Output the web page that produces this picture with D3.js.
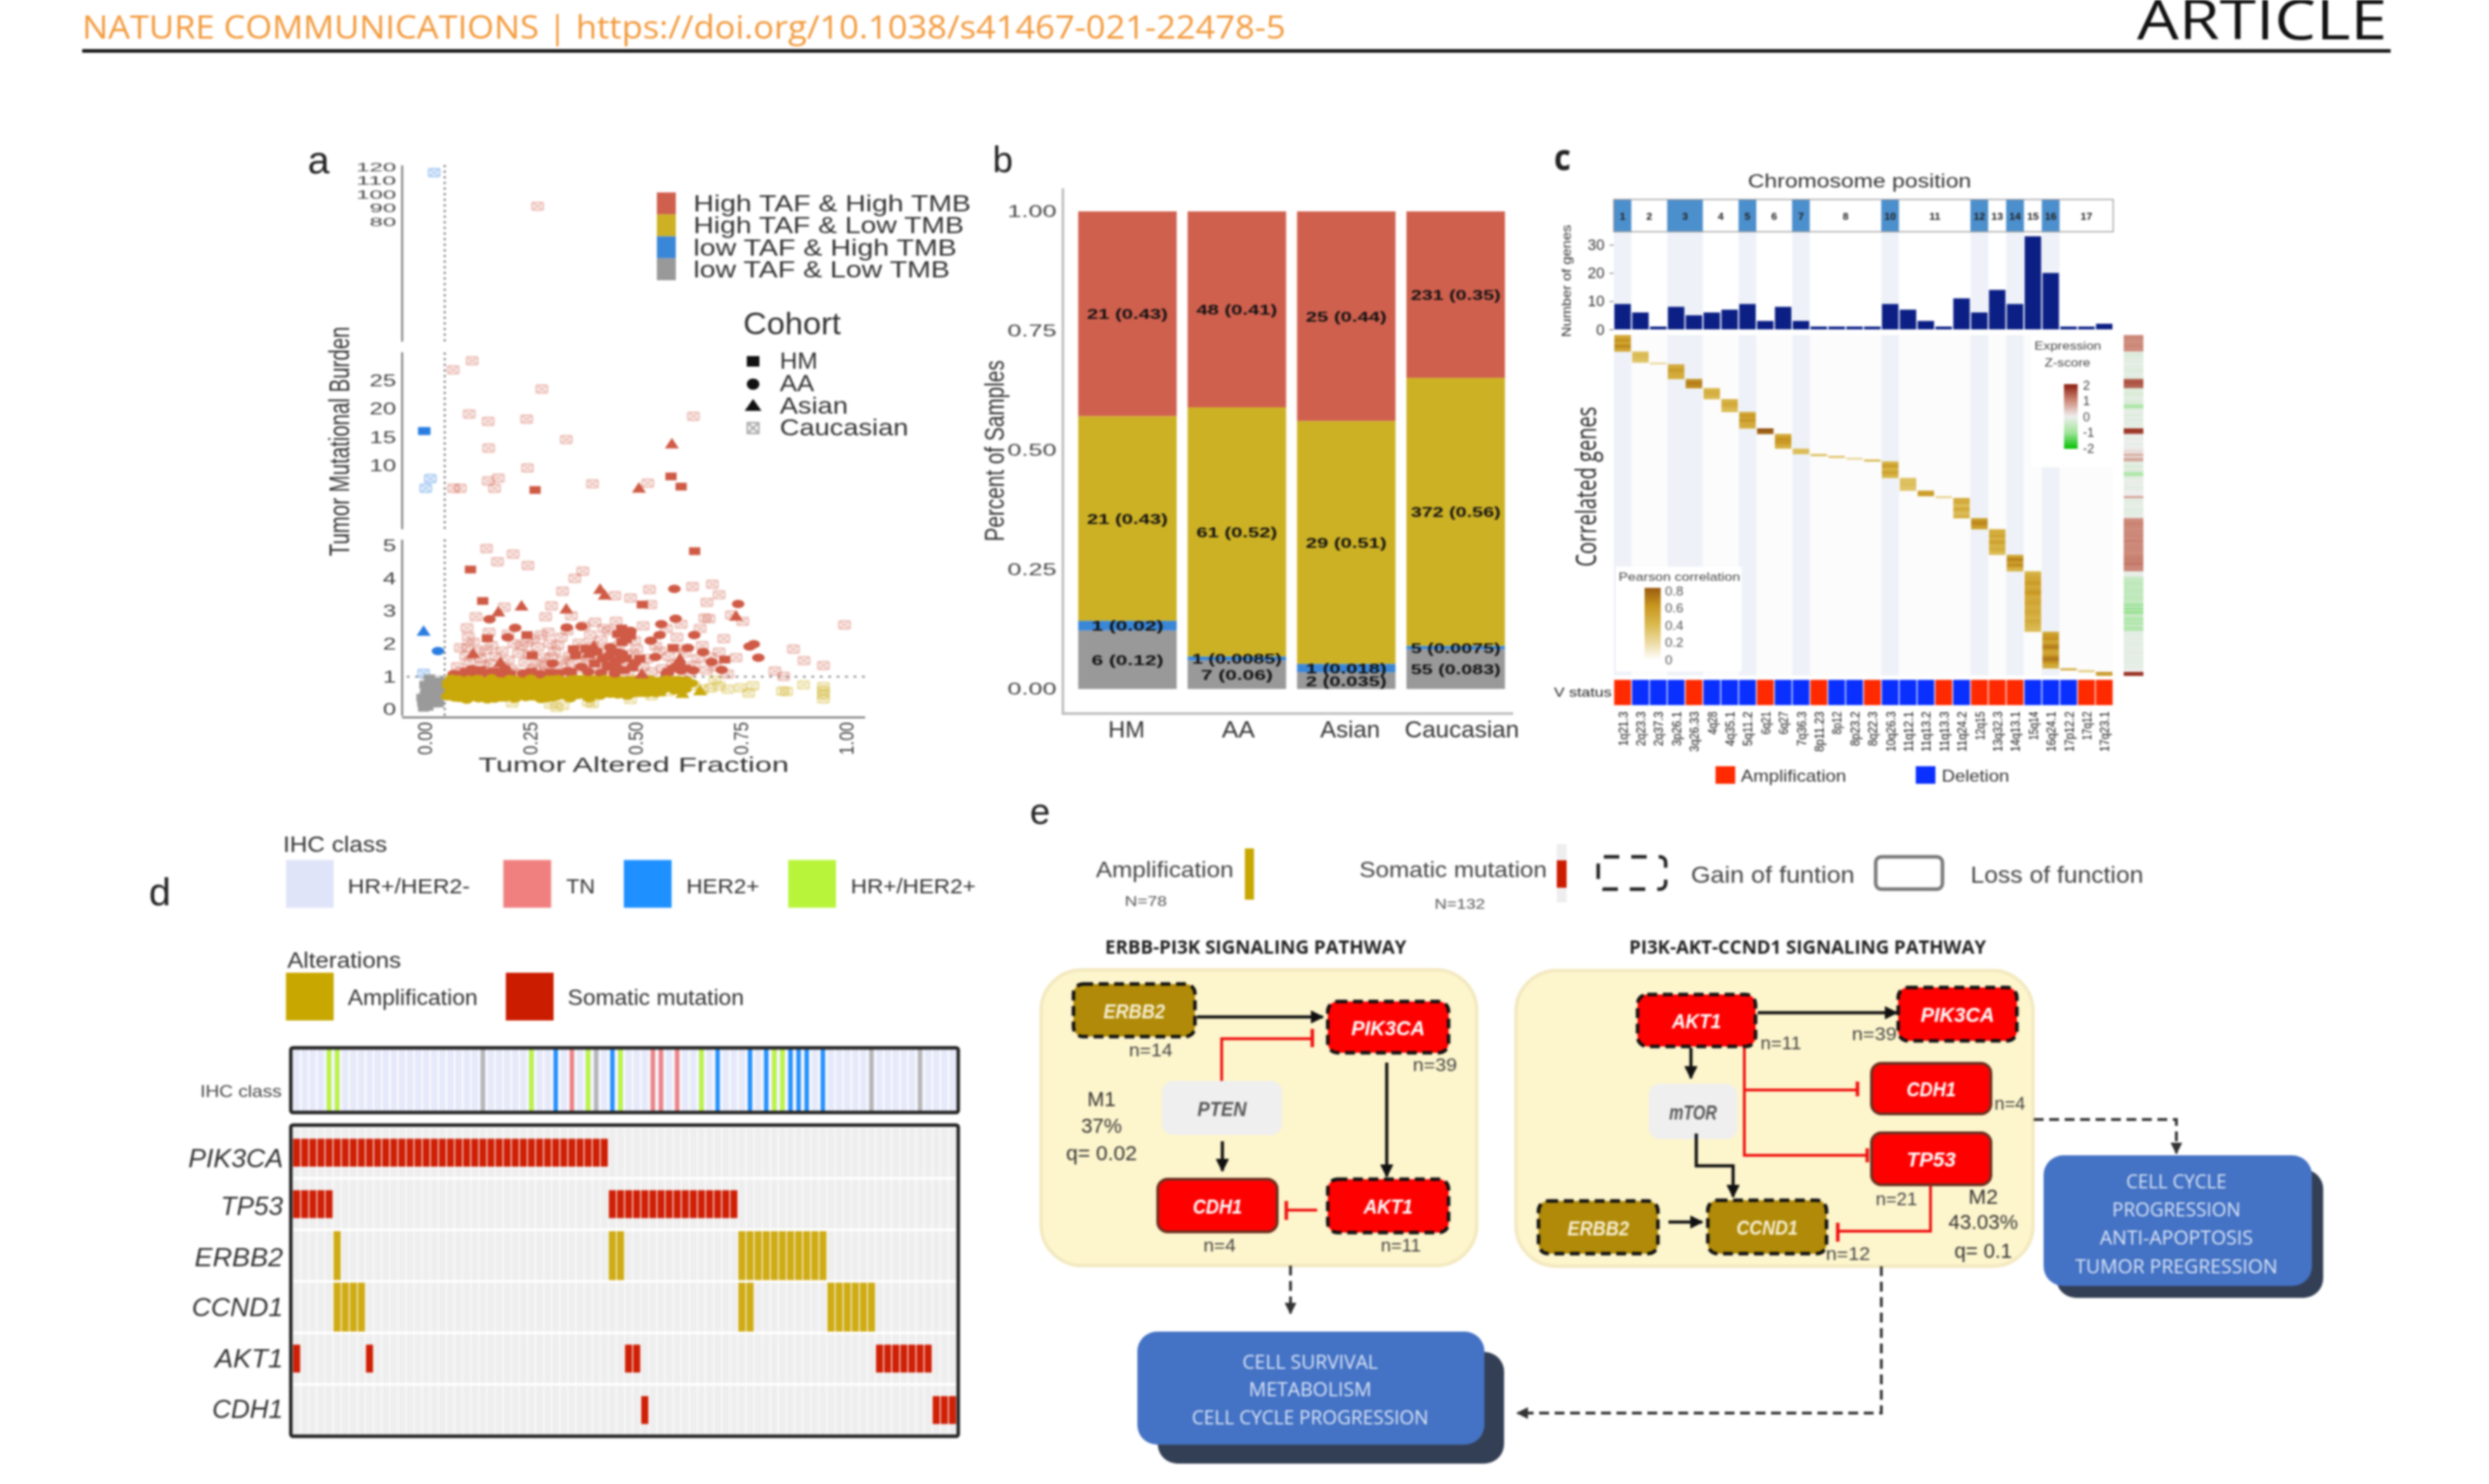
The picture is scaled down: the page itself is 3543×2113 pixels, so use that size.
<!DOCTYPE html>
<html><head><meta charset="utf-8">
<script src="https://cdn.jsdelivr.net/npm/d3@7"></script>
<style>html,body{margin:0;background:#fff}svg{display:block;filter:blur(1.5px)}</style>
</head><body><svg id="c" width="3543" height="2113" viewBox="0 0 3543 2113"></svg>
<script>
// ---------- PANEL A DATA: [tumor altered fraction, tumor mutational burden] ----------
const pointsCaucasian = [
[.025,116],[.27,91.5],
[.07,26.9],[.115,28.5],[.28,23.5],[.108,19.1],[.153,17.8],[.244,18.2],[.639,18.7],[.338,14.6],[.154,13.1],[.246,9.6],[.153,7.3],[.177,7.8],[.168,6],[.071,6],[.087,6],[.40,6.8],[.531,6.9],[.016,7.7],[.005,6],
[.149,4.91],[.175,4.51],[.212,4.74],[.247,4.39],[.377,4.22],[.358,4.0],[.329,3.61],[.535,3.66],[.453,3.47],[.49,3.4],[.637,3.75],[.684,3.82],[.70,3.5],[.671,3.27],[.303,3.16],[.191,3.12],[.124,2.83],[.289,2.83],[.35,2.86],[.406,2.66],[.456,2.69],[.538,3.2],[.666,2.79],[.676,2.77],[.756,2.69],[.729,2.88],[.997,2.58],[.711,2.16],[.103,2.49],[.106,2.21],[.655,2.47],[.575,2.47],[.876,1.84],[.901,1.49],[.947,1.34],[.74,1.58],[.832,1.17],[.853,1.01],[0,1.1],
[.087,1.88],[.13,1.75],[.161,1.95],[.214,2.01],[.278,2.27],[.299,2.01],[.326,2.2],[.395,2.27],[.427,2.47],[.352,1.43],[.105,1.9],[.11,1.45],[.142,1.35],[.17,1.62],[.19,1.3],[.225,1.72],[.24,1.44],[.262,1.26],[.283,1.58],[.31,1.76],[.325,1.33],[.345,1.62],[.368,2.02],[.385,1.41],[.41,1.68],[.42,2.12],[.44,1.22],[.462,1.95],[.475,1.38],[.505,1.84],[.52,1.3],[.55,1.93],[.565,1.24],[.58,1.62],[.62,1.72],[.64,1.35],[.67,1.2],[.69,1.3],[.72,1.08],[.295,1.15],[.215,1.12],[.125,1.12],[.08,1.3],[.245,2.05],[.378,1.86],[.34,2.4],[.438,2.4],[.5,2.1],[.6,2.2],
[.09,1.15],[.1,1.62],[.118,2.05],[.135,1.55],[.148,1.82],[.158,1.4],[.176,1.18],[.186,1.78],[.2,1.5],[.208,1.22],[.232,1.95],[.25,1.68],[.27,1.9],[.272,1.4],[.29,1.32],[.302,1.6],[.318,1.95],[.33,1.5],[.336,1.14],[.36,1.78],[.37,1.25],[.39,1.6],[.4,1.95],[.405,1.2],[.415,1.45],[.43,1.82],[.45,1.55],[.47,2.2],[.485,1.15],[.495,1.7],[.53,1.55],[.54,1.15],[.56,1.78],[.59,1.38],[.605,1.85],[.63,1.12],[.65,1.55],[.66,1.95],[.68,1.6],[.7,1.75],[.295,2.35],[.26,2.15],[.2,2.3],[.155,2.35],[.38,2.55],[.52,2.55],[.61,2.6],
[.315,.06],[.33,.12],[.30,.16],[.21,.2],[.40,.18],[.39,.22],[.49,.3],[.68,.65],[.70,.72],[.72,.62],[.75,.66],[.77,.5],[.78,.72],[.86,.55],[.85,.56],[.90,.75],[.947,.7],[.947,.58],[.947,.45],[.947,.32],[.62,.85],[.66,.62],[.64,.72],[.69,.9],[.58,.55],[.54,.42],
[.012,.25],[.022,.4],[.035,.55],[.045,.7],[.03,.9],[.04,.85],[.015,.72],[.048,.45],[.025,.62],[.008,.85]
];
const pointsHM = [
[0,16.1],[.003,16.1],[.264,5.7],[.586,8.1],[.61,6.3],
[.111,4.27],[.642,4.83],[.14,3.31],[.518,3.2],[.151,2.17],[.245,2.27],[.257,1.65],[.355,1.84],[.394,1.79],[.48,2.34],[.48,2.14],[.469,2.47],[.713,1.52],[.591,1.88],[.512,1.55],[.48,1.56],[.36,1.65],[.44,1.6],[.455,1.42],[.495,1.28],[.135,1.2],
[.46,2.3],[.49,2.25],[.47,2.05],[.455,1.75],[.435,1.35],[.405,1.4],[.385,1.85],[.41,1.75],[.35,1.15],[.3,1.12],[.255,1.15],[.205,1.08],[.165,1.15],[.1,1.15],[.58,1.15],[.6,1.3],[.62,1.25],[.475,1.2],
[.065,.84],[.09,.62],[.118,.9],[.14,.45],[.165,.74],[.188,.36],[.21,.88],[.235,.55],[.26,.92],[.285,.42],[.31,.72],[.335,.5],[.36,.93],[.385,.6],[.41,.86],[.435,.56],[.46,.9],[.49,.72],[.52,.85],[.55,.62],[.58,.82],[.615,.75],
[.07,.9],[.092,.88],[.108,.92],[.135,.89],[.17,.92],[.186,.88],[.222,.91],[.243,.88],[.268,.9],[.3,.92],[.33,.88],[.352,.9],[.388,.92],[.415,.89],[.44,.91],[.47,.88],[.495,.9],[.53,.92],[.56,.87],[.59,.9],[.62,.88],
[.06,.6],[.082,.72],[.1,.68],[.125,.76],[.15,.66],[.175,.78],[.2,.6],[.225,.74],[.25,.62],[.275,.78],[.3,.64],[.325,.77],[.35,.7],[.375,.66],[.4,.74],[.425,.64],[.45,.72],[.48,.6],[.505,.68],[.535,.7],[.565,.74],[.6,.7],[.51,.5],[.56,.52],
[.001,.12],[.008,.3],[.004,.46],[-.002,.2],[.012,.6],[.003,.75],[.01,.08],[.02,.18],[.018,.5],[.028,.3],[.03,.7],[.006,.62],[.022,.85],[.036,.42],[.04,.62],[.014,.95],[-.004,.36],[.0,.05],[.035,.18],[.044,.85]
];
const pointsAA = [
[.034,1.78],[.156,2.75],[.217,2.49],[.199,2.2],[.339,2.5],[.374,2.53],[.594,3.68],[.597,2.77],[.563,2.6],[.559,2.27],[.538,2.1],[.641,2.27],[.626,1.88],[.662,1.75],[.682,1.45],[.745,3.22],[.782,1.99],[.772,1.92],[.793,1.58],[.706,1.21],[.549,1.6],[.071,1.08],[.114,1.23],[.124,1.1],[.151,1.1],[.193,1.23],[.236,1.1],[.305,1.4],[.342,1.17],[.374,1.3],[.437,1.3],[.453,1.1],[.575,1.1],[.639,1.19],[.47,1.7],[.425,1.55],[.46,1.25],[.59,1.25],[.61,1.18],[.275,1.08],[.42,1.12],
[.442,1.9],[.49,2.4],[.5,1.42],[.39,1.15],[.32,1.1],[.185,1.06],[.085,1.06],
[.058,.72],[.062,.5],[.066,.94],[.074,.36],[.078,.76],[.083,.92],[.088,.46],[.096,.83],[.102,.3],[.106,.58],[.112,.72],[.122,.4],[.127,.93],[.131,.62],[.146,.86],[.151,.31],[.156,.56],[.161,.95],[.172,.42],[.177,.63],[.182,.86],[.195,.5],[.2,.7],[.204,.93],[.216,.33],[.222,.6],[.228,.78],[.242,.38],[.248,.72],[.254,.94],[.268,.5],[.272,.68],[.278,.32],[.292,.87],[.298,.58],[.304,.36],[.318,.93],[.322,.48],[.328,.67],[.342,.84],[.347,.34],[.353,.62],[.366,.44],[.372,.78],[.378,.93],[.392,.34],[.397,.7],[.403,.52],[.418,.42],[.423,.7],[.428,.93],[.442,.48],[.447,.78],[.468,.55],[.474,.72],[.482,.42],[.5,.55],[.51,.92],[.53,.5],[.54,.72],[.565,.6],[.575,.92],[.595,.58],[.605,.9],[.635,.8],
[.056,.4],[.07,.46],[.084,.35],[.094,.52],[.11,.38],[.118,.5],[.13,.34],[.143,.56],[.16,.42],[.168,.33],[.183,.5],[.19,.6],[.208,.42],[.214,.55],[.235,.42],[.24,.62],[.258,.4],[.262,.6],[.286,.52],[.29,.34],[.312,.56],[.315,.4],[.336,.42],[.34,.6],[.36,.54],[.382,.45],[.39,.55],[.41,.6],[.43,.5],[.455,.58],[.46,.46],[.49,.48],[.52,.6],[.55,.5],[.058,.82],[.072,.62],[.096,.6],[.138,.66],[.165,.55],[.21,.66],[.258,.76],[.31,.84],[.365,.82],[.405,.92],[.455,.82],[.5,.8],[.54,.88],[.58,.68],[.62,.62]
];
const pointsAsian = [
[.588,13.9],[.51,6.1],
[0,2.4],[.177,2.99],[.232,3.17],[.338,3.08],[.418,3.68],[.429,3.5],[.74,2.86],[.117,1.71],[.182,1.45],[.403,1.95],[.443,1.82],[.607,1.56],[.613,1.36],[.517,1.1],[.39,1.72],[.46,1.55],
[.613,.5],[.655,.58],[.52,.6],[.19,.7],[.33,.8]
];

// ---------- PANEL B DATA ----------
const cohorts = ["HM","AA","Asian","Caucasian"];
const classes = ["low TAF & Low TMB","low TAF & High TMB","High TAF & Low TMB","High TAF & High TMB"];
const countLowLow = [6,7,2,55];
const countLowHigh = [1,1,1,5];
const countHighLow = [21,61,29,372];
const countHighHigh = [21,48,25,231];
const labelLowLow = ["6 (0.12)","7 (0.06)","2 (0.035)","55 (0.083)"];
const labelLowHigh = ["1 (0.02)","1 (0.0085)","1 (0.018)","5 (0.0075)"];
const labelHighLow = ["21 (0.43)","61 (0.52)","29 (0.51)","372 (0.56)"];
const labelHighHigh = ["21 (0.43)","48 (0.41)","25 (0.44)","231 (0.35)"];
const percentTicks = [0,.25,.5,.75,1];

// ---------- PANEL C DATA ----------
const cytobands = ["1q21.3","2q23.3","2q37.3","3p26.1","3q26.33","4q28","4q35.1","5q11.2","6q21","6q27","7q36.3","8p11.23","8p12","8p23.2","8q22.3","10q26.3","11q12.1","11q13.2","11q13.3","11q24.2","12q15","13q32.3","14q13.1","15q14","16q24.1","17p12.2","17q12","17q23.1"];
const bandChromosome = [1,2,2,3,3,4,4,5,6,6,7,8,8,8,8,10,11,11,11,11,12,13,14,15,16,17,17,17];
const geneCounts = [9,6,1,8,5,6,7,9,3,8,3,1,1,1,1,9,7,3,1,11,6,14,9,33,20,1,1,2];
const vStatus = ["A","D","D","D","A","D","D","D","A","D","D","A","D","D","A","D","D","D","A","D","A","A","A","D","D","D","A","A"];
const shadedChromosomes = [1,3,5,7,10,12,14,16];
const correlations = [
[.5,.52,.62,.6,.52,.62,.66,.55,.5],[.36,.38,.4,.38,.36,.34],[.2],[.5,.48,.55,.6,.5,.48,.5,.45],[.62,.66,.7,.66,.62],[.42,.45,.48,.46,.42,.38],[.44,.46,.5,.48,.44,.4,.38],[.5,.55,.6,.52,.62,.55,.48,.5,.46],[.85,.8,.78],[.5,.55,.6,.62,.6,.55,.5,.42],[.35,.4,.36],[.4],[.35],[.22],[.42],[.42,.5,.58,.5,.42,.52,.55,.45,.4],[.34,.36,.36,.38,.36,.34,.32],[.55,.6,.5],[.25],[.5,.46,.52,.4,.38,.48,.5,.42,.36,.44,.46],[.55,.62,.66,.64,.58,.52],[.42,.5,.46,.55,.48,.44,.52,.56,.46,.42,.5,.46,.4,.38],[.5,.6,.68,.62,.55,.65,.58,.45,.42],
[.42,.44,.5,.52,.5,.56,.58,.54,.5,.52,.56,.6,.58,.5,.48,.52,.5,.54,.5,.46,.48,.5,.52,.48,.46,.44,.48,.5,.46,.44,.42,.4,.38],
[.5,.55,.6,.62,.6,.52,.55,.66,.7,.62,.55,.5,.56,.64,.7,.72,.62,.56,.5,.46],[.5],[.3],[.62,.55]];
const expressionZ = [
[1,1.05,1,.95,1,1,1.05,.95,1],[-.1,-.3,-.15,-.25,-.1,-.2],[-.05],[-.15,-.2,-.1,-.3,-.15,-.1,-.2,-.15],[1.45,1.5,1.5,1.4,1.35],[-.3,-.15,-.25,-.3,-.2,-.1],[-.2,-.25,-.3,-.85,-.9,-.2,-.1],[-.1,-.2,-.15,-.1,-.2,-.1,-.15,-.1,-.15],[1.75,1.8,1.7],[-.1,-.05,-.1,-.05,0,-.1,-.05,0],[.1,.2,.15],[.8],[.1],[.75],[.7],[-.2,-.1,-.3,-.2,-.15,-.3,-.9,-.85,-.2],[-.1,-.05,-.1,-.05,-.1,-.15,-.1],[0,-.05,0],[.9],[-.1,-.2,-.1,-.15,-.05,-.1,-.2,-.1,-.15,-.1,-.05],[1,1,1.05,1.1,1,1],[1,1,1,1.05,1,1,1.1,1,1,1,1.05,1,1,1],[1.05,1.1,1.1,1.05,1.2,1.1,1.05,1,1.05],
[-.1,-.05,-.1,-.5,-.55,-.6,-.6,-.65,-.55,-.6,-.65,-.6,-.55,-.6,-.65,-.6,-.55,-.6,-1.1,-.5,-1.15,-.6,-1.2,-.55,-.5,-.7,-.9,-.5,-1,-.45,-.7,-.9,-.5],
[-.1,-.15,-.1,-.15,-.1,-.1,-.15,-.1,-.15,-.1,-.1,-.15,-.1,-.1,-.15,-.1,-.15,-.1,-.1,-.15],[0],[0],[1.85,1.9]];

// ---------- PANEL D DATA ----------
const genes = ["PIK3CA","TP53","ERBB2","CCND1","AKT1","CDH1"];
const geneType = {PIK3CA:"mut",TP53:"mut",ERBB2:"amp",CCND1:"amp",AKT1:"mut",CDH1:"mut"};
const sampleCount = 82;
const pik3caSamples = d3.range(0,39);
const tp53Samples = [0,1,2,3,4,39,40,41,42,43,44,45,46,47,48,49,50,51,52,53,54];
const erbb2Samples = [5,39,40,55,56,57,58,59,60,61,62,63,64,65];
const ccnd1Samples = [5,6,7,8,55,56,66,67,68,69,70,71];
const akt1Samples = [0,9,41,42,72,73,74,75,76,77,78];
const cdh1Samples = [43,79,80,81];
const ihcLime = [4,5,29,36,40,50,59,60];
const ihcGrey = [23,37,71,77];
const ihcBlue = [32,39,52,56,58,61,62,63,65];
const ihcPink = [34,44,45,47];

// ---------- COLOURS / HELPERS ----------
const RED="#d0604e", YEL="#cdb124", BLU="#3a87d8", GRY="#999999";
const svg=d3.select("#c");
const SANS="'Liberation Sans',Arial,sans-serif", OPEN="'Open Sans',sans-serif";
function t(str,x,y,o={}){
  const e=svg.append("text").text(str).attr("x",x).attr("y",y)
    .attr("font-family",o.family||SANS).attr("font-size",o.fs||24)
    .attr("fill",o.fill||"#333").attr("text-anchor",o.anchor||"start");
  if(o.weight)e.attr("font-weight",o.weight);
  if(o.italic)e.attr("font-style","italic");
  if(o.w)e.attr("textLength",o.w).attr("lengthAdjust","spacingAndGlyphs");
  if(o.rot)e.attr("transform",`rotate(${o.rot} ${x} ${y})`);
  return e;
}
function styleAxis(g,fs,charW,fill){
  g.selectAll("text").attr("font-family",SANS).attr("font-size",fs).attr("fill",fill||"#444")
   .each(function(){const s=d3.select(this).text();d3.select(this).attr("textLength",s.length*charW).attr("lengthAdjust","spacingAndGlyphs");});
}

// ---------- HEADER ----------
t("NATURE COMMUNICATIONS | https://doi.org/10.1038/s41467-021-22478-5",117,55,{fs:46,family:OPEN,fill:"#f39a3d",w:1713});
t("ARTICLE",3042,56,{fs:78,family:OPEN,fill:"#111",w:356});
svg.append("rect").attr("x",117).attr("y",70).attr("width",3286).attr("height",5).attr("fill","#111");

// ---------- PANEL A ----------
t("a",438,247,{fs:56,fill:"#222"});
const xA=d3.scaleLinear().domain([-.0516,1.045]).range([572,1231]);
const yLow=d3.scaleLinear().domain([-.19,5.19]).range([1019,768]);
const yMid=d3.scaleLinear().domain([-1.15,30.07]).range([753,501]);
const yTop=d3.scaleLinear().domain([-7,121.5]).range([486,235]);
const yAny=v=>v<=5.5?yLow(v):v<=35?yMid(v):yTop(v);
const tickSets=[[yLow,[0,1,2,3,4,5],24],[yMid,[10,15,20,25],24],[yTop,[80,90,100,110,120],16]];
tickSets.forEach(([s,tv,fs])=>{
  const g=svg.append("g").attr("transform","translate(572,0)").call(d3.axisLeft(s).tickValues(tv).tickSize(0).tickPadding(8).tickFormat(d3.format("d")));
  g.select(".domain").attr("stroke","#888").attr("stroke-width",3);
  styleAxis(g,fs,19,"#444");
  svg.append("line").attr("x1",xA(.05)).attr("x2",xA(.05)).attr("y1",s.range()[0]).attr("y2",s.range()[1]).attr("stroke","#666").attr("stroke-width",2.5).attr("stroke-dasharray","3 5");
});
svg.append("line").attr("x1",xA(-.04)).attr("x2",xA(1.045)).attr("y1",yLow(1)).attr("y2",yLow(1)).attr("stroke","#888").attr("stroke-width",2.5).attr("stroke-dasharray","4 8");
const gx=svg.append("g").attr("transform","translate(0,1021)").call(d3.axisBottom(xA).tickValues([0,.25,.5,.75,1]).tickSize(0).tickFormat(d3.format(".2f")));
gx.select(".domain").attr("stroke","#888").attr("stroke-width",3);
gx.selectAll("text").attr("font-family",SANS).attr("font-size",30).attr("fill","#444").attr("text-anchor","end")
  .attr("textLength",47).attr("lengthAdjust","spacingAndGlyphs")
  .attr("transform","rotate(-90)").attr("x",-7).attr("y",0).attr("dy","11");
t("Tumor Altered Fraction",681,1099,{fs:30,w:442,fill:"#333"});
t("Tumor Mutational Burden",497,792,{fs:40,w:327,rot:-90,fill:"#333"});
const cls=d=>d[0]<.05?(d[1]>=1?"#2a7de0":"#9a9a9a"):(d[1]>=1?"#cf5a45":"#c9a80a");
svg.append("g").selectAll("g").data(pointsCaucasian).join("g")
  .attr("transform",d=>`translate(${xA(d[0])},${yAny(d[1])})`).attr("opacity",.36)
  .each(function(d){const g=d3.select(this),c=cls(d);
    g.append("rect").attr("x",-8).attr("y",-5.5).attr("width",16).attr("height",11).attr("rx",2).attr("fill",c).attr("fill-opacity",.25).attr("stroke",c).attr("stroke-width",2.4);
    g.append("path").attr("d","M-8,-5.5L8,5.5M-8,5.5L8,-5.5").attr("stroke",c).attr("stroke-width",2);});
svg.append("g").selectAll("rect").data(pointsHM).join("rect")
  .attr("x",d=>xA(d[0])-8).attr("y",d=>yAny(d[1])-5.5).attr("width",16).attr("height",11).attr("fill",cls);
svg.append("g").selectAll("ellipse").data(pointsAA).join("ellipse")
  .attr("cx",d=>xA(d[0])).attr("cy",d=>yAny(d[1])).attr("rx",9).attr("ry",6).attr("fill",cls);
svg.append("g").selectAll("path").data(pointsAsian).join("path")
  .attr("d",d=>{const x=xA(d[0]),y=yAny(d[1]);return `M${x-10},${y+7}L${x},${y-8}L${x+10},${y+7}Z`;}).attr("fill",cls);
const legA=[["High TAF & High TMB",RED,395],["High TAF & Low TMB",YEL,385],["low TAF & High TMB",BLU,375],["low TAF & Low TMB",GRY,365]];
const legAScale=d3.scaleBand().domain(d3.range(4)).range([274,399]);
legA.forEach((l,i)=>{
  svg.append("rect").attr("x",935).attr("y",legAScale(i)).attr("width",27).attr("height",legAScale.bandwidth()).attr("fill",l[1]);
  t(l[0],987,legAScale(i)+27,{fs:33,w:l[2],fill:"#333"});
});
t("Cohort",1058,476,{fs:44,w:139,fill:"#333"});
const cohortLeg=[["HM",54,525],["AA",49,557],["Asian",97,589],["Caucasian",183,620]];
cohortLeg.forEach(l=>t(l[0],1110,l[2],{fs:33,w:l[1],fill:"#333"}));
svg.append("rect").attr("x",1063).attr("y",507).attr("width",18).attr("height",15).attr("fill","#111");
svg.append("ellipse").attr("cx",1072).attr("cy",547).attr("rx",9).attr("ry",8).attr("fill","#111");
svg.append("path").attr("d","M1060,585L1072,568L1084,585Z").attr("fill","#111");
svg.append("rect").attr("x",1064).attr("y",602).attr("width",16).attr("height",15).attr("fill","none").attr("stroke","#aaa").attr("stroke-width",2.5);
svg.append("path").attr("d","M1064,602L1080,617M1064,617L1080,602").attr("stroke","#aaa").attr("stroke-width",2.5);

// ---------- PANEL B ----------
t("b",1413,245,{fs:52,fill:"#222"});
const xB=d3.scaleBand().domain(cohorts).range([1527,2150]).paddingInner(.1).paddingOuter(.05);
const yB=d3.scaleLinear().domain([0,1]).range([981,301]);
const barRows=cohorts.map((c,i)=>{const tot=countLowLow[i]+countLowHigh[i]+countHighLow[i]+countHighHigh[i];
  return {c,a:countLowLow[i]/tot,b:countLowHigh[i]/tot,d:countHighLow[i]/tot,e:countHighHigh[i]/tot};});
const stackB=d3.stack().keys(["a","b","d","e"])(barRows);
const colB=[GRY,BLU,YEL,RED], labB=[labelLowLow,labelLowHigh,labelHighLow,labelHighHigh];
stackB.forEach((s,k)=>{
  svg.append("g").selectAll("rect").data(s).join("rect").attr("x",d=>xB(d.data.c)).attr("width",xB.bandwidth())
    .attr("y",d=>yB(d[1])).attr("height",d=>yB(d[0])-yB(d[1])).attr("fill",colB[k]);
});
stackB.forEach((s,k)=>{
  s.forEach((d,i)=>{const str=labB[k][i];
    t(str,xB(d.data.c)+xB.bandwidth()/2,yB((d[0]+d[1])/2)+7.5,{fs:21,weight:"bold",fill:"#111",anchor:"middle",w:str.length*12.8});
  });
});
const yAxB=svg.append("g").attr("transform","translate(1513,0)").call(d3.axisLeft(yB).tickValues(percentTicks).tickSize(0).tickPadding(9).tickFormat(d3.format(".2f")));
yAxB.select(".domain").remove();styleAxis(yAxB,24,17.5,"#444");
svg.append("path").attr("d","M1513,268V1016H2154").attr("fill","none").attr("stroke","#bbb").attr("stroke-width",3.5);
const xLabB=d3.scalePoint().domain(cohorts).range([1603.5,2081]);
const wLabB={HM:52,AA:47,Asian:85,Caucasian:163};
cohorts.forEach(c=>t(c,xLabB(c),1050,{fs:33,anchor:"middle",w:wLabB[c],fill:"#333"}));
t("Percent of Samples",1429,771,{fs:38,w:258,rot:-90,fill:"#333"});

// ---------- PANEL C ----------
t("c",2212,242,{fs:52,weight:"bold",family:OPEN,fill:"#222",w:24});
t("Chromosome position",2488,267,{fs:27,w:318,fill:"#333"});
const xC=d3.scaleBand().domain(cytobands).range([2297,3008]);
const yCount=d3.scaleLinear().domain([0,30]).range([469,348.5]);
const totalGenes=d3.sum(geneCounts);
const yGene=d3.scaleLinear().domain([0,totalGenes]).range([477,962]);
svg.append("rect").attr("x",2297).attr("y",477).attr("width",711).attr("height",485).attr("fill","#fcfcfc");
const chromIds=[...new Set(bandChromosome)];
chromIds.forEach(ch=>{
  const bs=cytobands.filter((b,i)=>bandChromosome[i]===ch);
  const x0=xC(bs[0]),x1=xC(bs[bs.length-1])+xC.bandwidth(),sh=shadedChromosomes.includes(ch);
  if(sh){
    svg.append("rect").attr("x",x0).attr("y",331).attr("width",x1-x0).attr("height",138).attr("fill","#eef2f8");
    svg.append("rect").attr("x",x0).attr("y",477).attr("width",x1-x0).attr("height",485).attr("fill","#eef2f8");
  }
  svg.append("rect").attr("x",x0).attr("y",284).attr("width",x1-x0).attr("height",46).attr("fill",sh?"#4c8fcd":"#fff");
  t(String(ch),(x0+x1)/2,313,{fs:15,weight:"bold",anchor:"middle",fill:"#222"});
});
svg.append("rect").attr("x",2297).attr("y",284).attr("width",711).attr("height",46).attr("fill","none").attr("stroke","#999").attr("stroke-width",1.5);
svg.append("g").selectAll("rect").data(cytobands).join("rect").attr("x",d=>xC(d)+1).attr("width",xC.bandwidth()-2)
  .attr("y",(d,i)=>yCount(geneCounts[i])).attr("height",(d,i)=>yCount(0)-yCount(geneCounts[i])).attr("fill","#0b1f85");
const yAxC=svg.append("g").attr("transform","translate(2297,0)").call(d3.axisLeft(yCount).tickValues([0,10,20,30]).tickSize(6).tickPadding(7));
yAxC.select(".domain").remove();yAxC.selectAll("line").attr("stroke","#555");styleAxis(yAxC,22,12,"#333");
t("Number of genes",2236,480,{fs:18,w:160,rot:-90,fill:"#333"});
t("Correlated genes",2272,807,{fs:40,family:OPEN,w:228,rot:-90,fill:"#222"});
const corrCol=d3.scaleLinear().domain([0,.2,.4,.6,.8]).range(["#ffffff","#ecd9a0","#d9b84c","#c8961e","#9a5a10"]);
const zCol=d3.scaleLinear().domain([-2,-1,0,1,2]).range(["#00c000","#a0e49a","#eeeeee","#cc8878","#8b1a0a"]);
let gi=0;
cytobands.forEach((b,i)=>{
  correlations[i].forEach((v,k)=>{
    const y0=yGene(gi),y1=yGene(gi+1);
    svg.append("rect").attr("x",xC(b)+1).attr("width",xC.bandwidth()-2).attr("y",y0).attr("height",y1-y0+.3).attr("fill",corrCol(v));
    svg.append("rect").attr("x",3023).attr("width",28).attr("y",y0).attr("height",y1-y0+.3).attr("fill",zCol(expressionZ[i][k]));
    gi++;
  });
});
svg.append("rect").attr("x",2300).attr("y",807).attr("width",179).attr("height",149).attr("fill","#fff");
t("Pearson correlation",2304,827,{fs:17,w:173,fill:"#444"});
const defs=svg.append("defs");
const g1=defs.append("linearGradient").attr("id","gc").attr("x1",0).attr("x2",0).attr("y1",1).attr("y2",0);
corrCol.domain().forEach(v=>g1.append("stop").attr("offset",v/.8).attr("stop-color",corrCol(v)));
const g2=defs.append("linearGradient").attr("id","gz").attr("x1",0).attr("x2",0).attr("y1",1).attr("y2",0);
zCol.domain().forEach(v=>g2.append("stop").attr("offset",(v+2)/4).attr("stop-color",zCol(v)));
svg.append("rect").attr("x",2341).attr("y",837).attr("width",23).attr("height",103).attr("fill","url(#gc)");
const legCorr=d3.scaleLinear().domain([0,.8]).range([939,840.5]);
[0,.2,.4,.6,.8].forEach(v=>t(String(v),2370,legCorr(v)+7,{fs:19,fill:"#555"}));
svg.append("rect").attr("x",2891).attr("y",477).attr("width",117).attr("height",188).attr("fill","#fff");
t("Expression",2896,498,{fs:16,w:95,fill:"#444"});
t("Z-score",2943,522,{fs:16,w:65,anchor:"middle",fill:"#444"});
svg.append("rect").attr("x",2938).attr("y",547).attr("width",19.5).attr("height",92).attr("fill","url(#gz)");
const legZ=d3.scaleLinear().domain([-2,2]).range([637.5,548]);
[-2,-1,0,1,2].forEach(v=>t(String(v),2965,legZ(v)+7,{fs:18,fill:"#444"}));
svg.append("g").selectAll("rect").data(cytobands).join("rect").attr("x",d=>xC(d)+.7).attr("width",xC.bandwidth()-1.4).attr("y",968).attr("height",36)
  .attr("fill",(d,i)=>vStatus[i]==="A"?"#ff2a00":"#0a30ff");
t("V status",2212,992,{fs:18,w:82,fill:"#222"});
cytobands.forEach(b=>t(b,xC(b)+xC.bandwidth()/2+7,1013,{fs:18,anchor:"end",rot:-90,fill:"#111",w:b.length*8.2}));
svg.append("rect").attr("x",2442).attr("y",1091).attr("width",28).attr("height",25).attr("fill","#ff2a00");
svg.append("rect").attr("x",2727).attr("y",1091).attr("width",28).attr("height",25).attr("fill","#0a30ff");
t("Amplification",2478,1113,{fs:24,w:150,fill:"#333"});
t("Deletion",2764,1113,{fs:24,w:96,fill:"#333"});

// ---------- PANEL D ----------
t("d",212,1289,{fs:56,fill:"#222"});
t("IHC class",403,1213,{fs:31,w:148,fill:"#333"});
const ihcLegend=[[407,"#e0e4f8","HR+/HER2-",495,174],[716.5,"#f08080","TN",806,41],[888,"#1e90ff","HER2+",977,104],[1122,"#b8f53a","HR+/HER2+",1211,178]];
ihcLegend.forEach(l=>{svg.append("rect").attr("x",l[0]).attr("y",1224.5).attr("width",68).attr("height",68).attr("fill",l[1]);
  t(l[2],l[3],1272,{fs:30,w:l[4],fill:"#333"});});
t("Alterations",409,1378,{fs:31,w:162,fill:"#333"});
svg.append("rect").attr("x",407).attr("y",1385).attr("width",68).attr("height",68).attr("fill","#c8a800");
svg.append("rect").attr("x",720).attr("y",1385).attr("width",68).attr("height",68).attr("fill","#cc1c00");
t("Amplification",495,1431,{fs:31,w:185,fill:"#333"});
t("Somatic mutation",808,1431,{fs:31,w:251,fill:"#333"});
const xD=d3.scaleBand().domain(d3.range(sampleCount)).range([416.5,1361.5]);
const yD=d3.scaleBand().domain(genes).range([1605,2044]).paddingInner(.05).paddingOuter(.02);
const ihcColor=i=>ihcLime.includes(i)?"#b8f53a":ihcGrey.includes(i)?"#b5b5b5":ihcBlue.includes(i)?"#1e90ff":ihcPink.includes(i)?"#f08080":null;
svg.append("g").selectAll("rect").data(d3.range(sampleCount)).join("rect").attr("x",d=>xD(d)+1).attr("width",xD.bandwidth()-2).attr("y",1494).attr("height",88).attr("fill","#e6e9f9");
svg.append("g").selectAll("rect").data(d3.range(sampleCount).filter(i=>ihcColor(i))).join("rect").attr("x",d=>xD(d)+xD.bandwidth()/2-3).attr("width",6).attr("y",1494).attr("height",88).attr("fill",ihcColor);
t("IHC class",285,1561.5,{fs:24,w:116,fill:"#444"});
const geneSamples=[pik3caSamples,tp53Samples,erbb2Samples,ccnd1Samples,akt1Samples,cdh1Samples];
const geneLab={PIK3CA:135,TP53:89,ERBB2:126,CCND1:130,AKT1:97,CDH1:101};
const geneDy={PIK3CA:21,TP53:15,ERBB2:15,CCND1:13,AKT1:13,CDH1:11};
genes.forEach((g,gk)=>{
  const y=yD(g),h=yD.bandwidth();
  svg.append("g").selectAll("rect").data(d3.range(sampleCount)).join("rect").attr("x",d=>xD(d)+.7).attr("width",xD.bandwidth()-1.4).attr("y",y).attr("height",h).attr("fill","#eeeeee");
  const isAmp=geneType[g]==="amp";
  const mh=isAmp?h:h*.57;
  svg.append("g").selectAll("rect").data(geneSamples[gk]).join("rect").attr("x",d=>xD(d)+.7).attr("width",xD.bandwidth()-1.4)
    .attr("y",y+(h-mh)/2).attr("height",mh).attr("fill",isAmp?"#cfab14":"#cf1f05");
  t(g,403,y+h/2+geneDy[g],{fs:36,italic:true,anchor:"end",w:geneLab[g],fill:"#333"});
});
svg.append("rect").attr("x",414).attr("y",1492).attr("width",950).attr("height",92).attr("rx",3).attr("fill","none").attr("stroke","#222").attr("stroke-width",5);
svg.append("rect").attr("x",414).attr("y",1602).attr("width",950).attr("height",443).attr("rx",3).attr("fill","none").attr("stroke","#222").attr("stroke-width",5);

// ---------- PANEL E ----------
t("e",1466,1173,{fs:52,fill:"#222"});
t("Amplification",1560,1249,{fs:32,w:196,fill:"#444"});
t("N=78",1601,1290,{fs:21,w:60,fill:"#555"});
svg.append("rect").attr("x",1772).attr("y",1208).attr("width",13).attr("height",73).attr("fill","#c8a800");
t("Somatic mutation",1935,1249,{fs:32,w:267,fill:"#444"});
t("N=132",2042,1294,{fs:21,w:72,fill:"#555"});
svg.append("rect").attr("x",2216).attr("y",1202).attr("width",14).attr("height",83).attr("fill","#eeeeee");
svg.append("rect").attr("x",2216).attr("y",1225).attr("width",14).attr("height",39).attr("fill","#cc1c00");
svg.append("rect").attr("x",2275).attr("y",1220).attr("width",96).attr("height",46).attr("rx",8).attr("fill","none").attr("stroke","#222").attr("stroke-width",5).attr("stroke-dasharray","22 17");
t("Gain of funtion",2407,1257,{fs:33,w:233,fill:"#444"});
svg.append("rect").attr("x",2670).attr("y",1220).attr("width",95).attr("height",46).attr("rx",8).attr("fill","none").attr("stroke","#777").attr("stroke-width",5);
t("Loss of function",2805,1257,{fs:33,w:246,fill:"#444"});
t("ERBB-PI3K SIGNALING PATHWAY",1573,1358,{fs:26,family:OPEN,weight:"bold",w:429,fill:"#222"});
t("PI3K-AKT-CCND1 SIGNALING PATHWAY",2319,1358,{fs:26,family:OPEN,weight:"bold",w:508,fill:"#222"});
const headDefs=(id,c)=>defs.append("marker").attr("id",id).attr("viewBox","0 0 10 10").attr("refX",9).attr("refY",5).attr("markerWidth",4.2).attr("markerHeight",4.2).attr("orient","auto").append("path").attr("d","M0,0L10,5L0,10Z").attr("fill",c);
headDefs("ah","#111");headDefs("ag","#333");
function panelBox(x,y,w,h){
  svg.append("rect").attr("x",x).attr("y",y).attr("width",w).attr("height",h).attr("rx",58).attr("fill","#fdf5cc").attr("stroke","#f3e9c0").attr("stroke-width",5);
}
panelBox(1482,1381,620,421);panelBox(2158,1382,736,421);
function node(x0,y0,x1,y1,label,kind){
  const fill=kind==="gold"?"#b08a08":kind==="gray"?"#efefef":"#ff0000";
  const r=svg.append("rect").attr("x",x0).attr("y",y0).attr("width",x1-x0).attr("height",y1-y0).attr("rx",kind==="gray"?16:14).attr("fill",fill);
  if(kind==="dash"||kind==="gold")r.attr("stroke","#111").attr("stroke-width",5).attr("stroke-dasharray","14 8");
  if(kind==="solid")r.attr("stroke","#6a3020").attr("stroke-width",4);
  const c=kind==="gray"?"#555":(kind==="gold"?"#f6eed0":"#fff");
  t(label,(x0+x1)/2,(y0+y1)/2+11,{fs:30,italic:true,weight:"bold",anchor:"middle",fill:c,w:label.length*(label==="mTOR"?17:17.5)});
}
const lineGen=d3.line();
function arrow(pts,dash){const p=svg.append("path").attr("d",lineGen(pts)).attr("fill","none").attr("stroke",dash?"#333":"#111").attr("stroke-width",dash?4:4.5).attr("marker-end",dash?"url(#ag)":"url(#ah)");if(dash)p.attr("stroke-dasharray","14 8");}
function inhibit(pts,tbar){svg.append("path").attr("d",lineGen(pts)).attr("fill","none").attr("stroke","#f01010").attr("stroke-width",4);
  svg.append("path").attr("d",lineGen(tbar)).attr("fill","none").attr("stroke","#f01010").attr("stroke-width",5);}
node(1528,1401,1701,1476,"ERBB2","gold");
node(1890,1426,2062,1499,"PIK3CA","dash");
node(1654,1539,1825,1616,"PTEN","gray");
node(1648,1679,1818,1754,"CDH1","solid");
node(1890,1679,2062,1755,"AKT1","dash");
arrow([[1704,1448],[1883,1448]]);
inhibit([[1739,1539],[1739,1479],[1868,1479]],[[1868,1465],[1868,1491]]);
arrow([[1974,1513],[1974,1675]]);
arrow([[1740,1625],[1740,1667]]);
inhibit([[1875,1723],[1831,1723]],[[1831,1710],[1831,1737]]);
const NT={fs:25,fill:"#444"};
t("n=14",1607,1504,{...NT,w:62});t("n=39",2011,1525,{...NT,w:63});
t("M1",1568,1575,{fs:29,anchor:"middle",fill:"#333"});t("37%",1568,1613,{fs:29,anchor:"middle",fill:"#333"});t("q= 0.02",1568,1652,{fs:29,anchor:"middle",fill:"#333",w:101});
t("n=4",1736,1782,{...NT,anchor:"middle",w:46});t("n=11",1994,1782,{...NT,anchor:"middle",w:57});
arrow([[1837,1802],[1837,1870]],true);
function blue(x0,y0,x1,y1,sx0,sy0,sx1,sy1,lines){
  svg.append("rect").attr("x",sx0).attr("y",sy0).attr("width",sx1-sx0).attr("height",sy1-sy0).attr("rx",28).attr("fill","#333f55");
  svg.append("rect").attr("x",x0).attr("y",y0).attr("width",x1-x0).attr("height",y1-y0).attr("rx",28).attr("fill","#4472c4");
  lines.forEach(l=>t(l[0],l[1],l[2],{fs:28,family:OPEN,anchor:"middle",fill:"#dce6f8",w:l[3]}));
}
blue(1619,1896,2113,2057,1648,1925,2141,2084,[["CELL SURVIVAL",1865,1949,193],["METABOLISM",1865,1988,175],["CELL CYCLE PROGRESSION",1865,2028,337]]);
node(2331,1416,2499,1490,"AKT1","dash");
node(2702,1406,2871,1482,"PIK3CA","dash");
node(2664,1514,2834,1586,"CDH1","solid");
node(2664,1613,2834,1687,"TP53","solid");
node(2347,1543,2473,1622,"mTOR","gray");
node(2190,1710,2360,1785,"ERBB2","gold");
node(2431,1709,2600,1785,"CCND1","gold");
arrow([[2502,1442],[2700,1442]]);
arrow([[2407,1492],[2407,1535]]);
arrow([[2414.6,1614],[2414.6,1660],[2467,1660],[2467,1704]]);
arrow([[2375,1740],[2423,1740]]);
inhibit([[2483,1492],[2483,1645],[2656,1645]],[[2658,1635],[2658,1655]]);
inhibit([[2483,1552],[2644,1552]],[[2644,1540],[2644,1561]]);
inhibit([[2748,1688],[2748,1753],[2616,1753]],[[2616,1741],[2616,1768]]);
t("n=11",2506,1494,{...NT,w:58});t("n=39",2636,1481,{...NT,w:64});t("n=4",2839,1580,{...NT,w:44});t("n=21",2670,1716,{...NT,w:59});t("n=12",2599,1794,{...NT,w:63});
t("M2",2823,1714,{fs:29,anchor:"middle",fill:"#333",w:42});t("43.03%",2823,1750,{fs:29,anchor:"middle",fill:"#333",w:99});t("q= 0.1",2823,1791,{fs:29,anchor:"middle",fill:"#333",w:82});
arrow([[2895,1594],[3098,1594],[3098,1642]],true);
blue(2909,1645,3291,1831,2927,1665,3307,1848,[["CELL CYCLE",3098,1692,143],["PROGRESSION",3098,1732,183],["ANTI-APOPTOSIS",3098,1772,218],["TUMOR PREGRESSION",3098,1813,288]]);
arrow([[2678,1803],[2678,2012],[2160,2012]],true);
</script></body></html>
